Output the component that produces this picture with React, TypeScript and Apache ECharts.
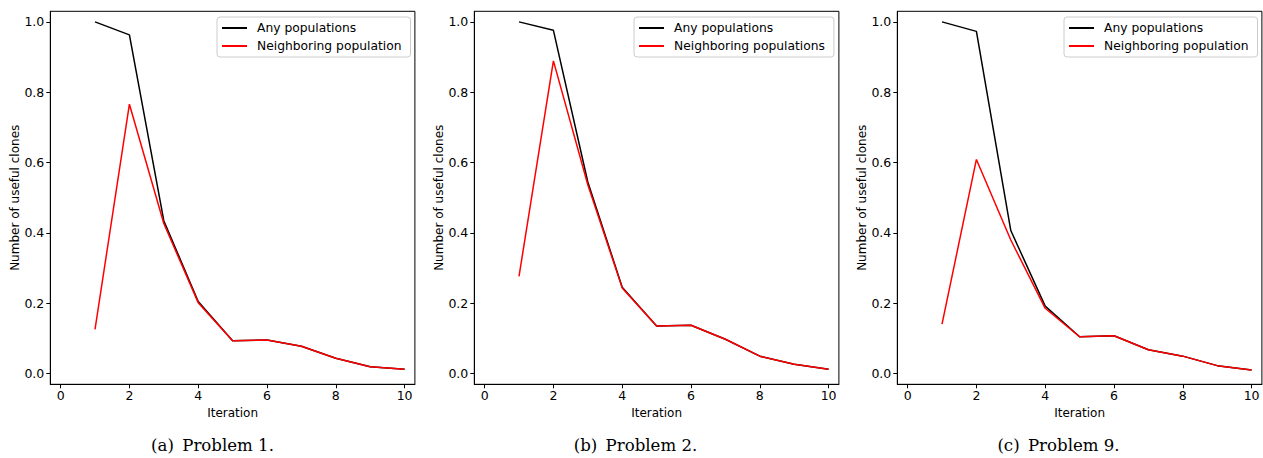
import React, { useEffect, useRef } from "react";
import * as echarts from "echarts";

const iterations = [1, 2, 3, 4, 5, 6, 7, 8, 9, 10];

const p1Any = [1.0, 0.963, 0.435, 0.205, 0.094, 0.096, 0.078, 0.044, 0.02, 0.0125];
const p1Neighbor = [0.126, 0.766, 0.427, 0.202, 0.094, 0.096, 0.078, 0.044, 0.02, 0.0125];

const p2Any = [1.0, 0.976, 0.545, 0.246, 0.136, 0.138, 0.098, 0.05, 0.027, 0.0125];
const p2Neighbor = [0.277, 0.889, 0.537, 0.244, 0.136, 0.138, 0.098, 0.05, 0.027, 0.0125];

const p3Any = [1.0, 0.973, 0.407, 0.192, 0.105, 0.108, 0.068, 0.05, 0.023, 0.0105];
const p3Neighbor = [0.141, 0.609, 0.38, 0.186, 0.105, 0.108, 0.068, 0.05, 0.023, 0.0105];

const xTicks = [0, 2, 4, 6, 8, 10];
const yTicks = [0, 0.2, 0.4, 0.6, 0.8, 1.0];

const anyName = "Any populations";
const neighborNames = ["Neighboring population", "Neighboring populations", "Neighboring population"];
const captions = ["(a)\u2002Problem 1.", "(b)\u2002Problem 2.", "(c)\u2002Problem 9."];
const xAxisTitle = "Iteration";
const yAxisTitle = "Number of useful clones";

const panels = [
  { any: p1Any, neighbor: p1Neighbor },
  { any: p2Any, neighbor: p2Neighbor },
  { any: p3Any, neighbor: p3Neighbor },
];

const gridLefts = [50.3, 474.3, 897.3];
const legendLefts = [217, 634, 1064];
const captionXs = [212.5, 635.5, 1058.5];

const SANS = "DejaVu Sans";

export default function App() {
  const ref = useRef<HTMLDivElement>(null);

  useEffect(() => {
    if (!ref.current) return;
    const chart = echarts.init(ref.current, undefined, { renderer: "svg" });

    const grids = panels.map((_, i) => ({
      left: gridLefts[i],
      top: 11.3,
      width: 364.6,
      height: 373,
      show: true,
      borderColor: "#000",
      borderWidth: 1,
      backgroundColor: "#fff",
      containLabel: false,
    }));

    const xAxes = panels.map((_, i) => ({
      type: "value",
      gridIndex: i,
      min: -0.3,
      max: 10.3,
      name: xAxisTitle,
      nameLocation: "middle",
      nameGap: 20,
      nameTextStyle: { fontFamily: SANS, fontSize: 12, color: "#000" },
      axisLine: { show: true, onZero: false, lineStyle: { color: "#000", width: 1 } },
      axisTick: { show: true, inside: false, length: 4, customValues: xTicks, lineStyle: { color: "#000" } },
      axisLabel: {
        show: true,
        margin: 5,
        customValues: xTicks,
        fontFamily: SANS,
        fontSize: 12.5,
        color: "#000",
        formatter: (v: number) => String(v),
      },
      splitLine: { show: false },
    }));

    const yAxes = panels.map((_, i) => ({
      type: "value",
      gridIndex: i,
      min: -0.03,
      max: 1.03,
      name: yAxisTitle,
      nameLocation: "middle",
      nameGap: 29,
      nameTextStyle: { fontFamily: SANS, fontSize: 12, color: "#000" },
      axisLine: { show: true, onZero: false, lineStyle: { color: "#000", width: 1 } },
      axisTick: { show: true, inside: false, length: 4, customValues: yTicks, lineStyle: { color: "#000" } },
      axisLabel: {
        show: true,
        margin: 6,
        customValues: yTicks,
        fontFamily: SANS,
        fontSize: 12.5,
        color: "#000",
        formatter: (v: number) => v.toFixed(1),
      },
      splitLine: { show: false },
    }));

    const series: any[] = [];
    panels.forEach((p, i) => {
      series.push({
        type: "line",
        name: anyName,
        xAxisIndex: i,
        yAxisIndex: i,
        data: iterations.map((x, k) => [x, p.any[k]]),
        symbol: "none",
        color: "#000000",
        lineStyle: { color: "#000000", width: 1.5 },
        itemStyle: { color: "#000000" },
        z: 2,
      });
      series.push({
        type: "line",
        name: neighborNames[i],
        xAxisIndex: i,
        yAxisIndex: i,
        data: iterations.map((x, k) => [x, p.neighbor[k]]),
        symbol: "none",
        color: "#ff0000",
        lineStyle: { color: "#ff0000", width: 1.5 },
        itemStyle: { color: "#ff0000" },
        z: 3,
      });
    });

    const legends = panels.map((_, i) => ({
      orient: "vertical",
      left: legendLefts[i],
      top: 17,
      padding: [5, 9, 5, 5],
      itemWidth: 25,
      itemHeight: 2,
      itemGap: 6,
      icon: "rect",
      selectedMode: false,
      data: [anyName, neighborNames[i]],
      borderColor: "#cccccc",
      borderWidth: 1,
      borderRadius: 3,
      backgroundColor: "rgba(255,255,255,0.8)",
      textStyle: { fontFamily: SANS, fontSize: 12.3, color: "#000", padding: [0, 0, 0, 5] },
    }));

    const graphic = captions.map((c, i) => ({
      type: "text",
      x: captionXs[i],
      y: 445,
      style: {
        text: c,
        fontFamily: "DejaVu Serif",
        fontSize: 16.6,
        fill: "#000",
        textAlign: "center",
        textVerticalAlign: "middle",
      },
    }));

    chart.setOption({
      animation: false,
      backgroundColor: "#fff",
      grid: grids,
      xAxis: xAxes,
      yAxis: yAxes,
      legend: legends,
      series,
      graphic,
    });

    return () => chart.dispose();
  }, []);

  return (
    <div
      ref={ref}
      style={{ position: "absolute", left: 0, top: 0, width: 1263, height: 458, background: "#fff" }}
    />
  );
}
